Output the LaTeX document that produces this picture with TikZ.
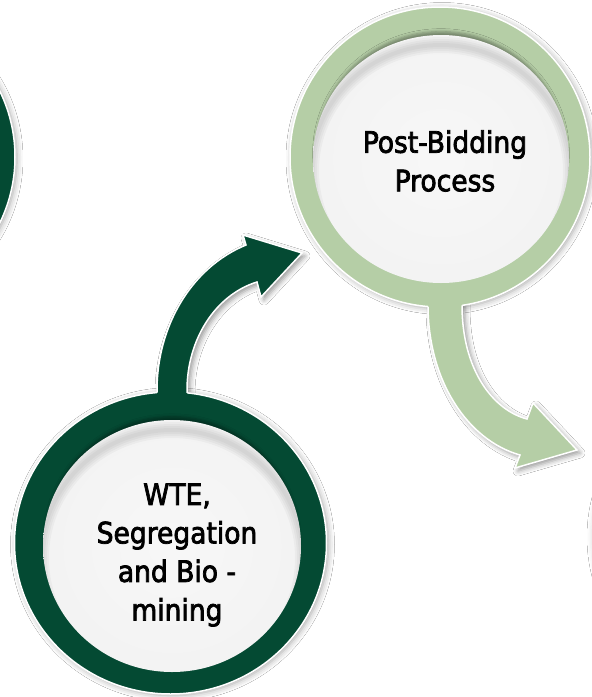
\documentclass[tikz,border=0pt]{standalone}
\usepackage{fontspec}
\newfontfamily\labfont{DejaVu Sans Condensed}[FakeBold=2.5]
\usetikzlibrary{shadows.blur}
\definecolor{dkgreen}{RGB}{4,74,51}
\definecolor{ltgreen}{RGB}{181,206,166}
\pgfdeclareradialshading{discshade}{\pgfpoint{0bp}{0bp}}{color(0bp)=(white!97!black); color(28bp)=(white!95!black); color(42bp)=(white!92!black); color(50bp)=(white!86!black)}
\begin{document}
\begin{tikzpicture}[x=1pt,y=-1pt,
  ringshadow/.style={blur shadow={shadow xshift=2pt, shadow yshift=-1.5pt, shadow blur radius=6pt, shadow opacity=35}},
  arrowshadow/.style={blur shadow={shadow xshift=3pt, shadow yshift=-3pt, shadow blur radius=5pt, shadow opacity=40}},
  discshadow/.style={blur shadow={shadow xshift=0pt, shadow yshift=6pt, shadow scale=0.98, shadow blur radius=3pt, shadow opacity=35}},
  ringline/.style={draw=white, line width=1.5pt},
  disc/.style={shading=discshade, discshadow},
  label/.style={align=center, font=\labfont\fontsize{29.5pt}{38.5pt}\selectfont, text=black, inner sep=0pt}]
\useasboundingbox (0,0) rectangle (592,697);
\fill[white] (0,0) rectangle (592,697);

% centres
\coordinate (lc) at (-135,157);
\coordinate (wc) at (170.5,543);
\coordinate (pc) at (440,157);
\coordinate (rc) at (745,537);

% arrow outlines
\def\darkarrow{(157,405) -- (157,390) .. controls (157,328) and (190,268) .. (246,245) -- (243,235) -- (302,253) -- (261,297) -- (257,282) .. controls (215,295) and (187,340) .. (187,390) -- (187,405)}
\def\lightarrow{(428,292) -- (428,305) .. controls (428,380) and (467,440) .. (520,455) -- (515,468) -- (577,450) -- (533,403) -- (527,419) .. controls (493,410) and (462,370) .. (462,305) -- (462,292)}

% partial neighbours
\fill[white, blur shadow={shadow xshift=0pt, shadow yshift=0pt, shadow blur radius=5pt, shadow opacity=15}] (rc) circle[radius=153pt];
\fill[dkgreen, ringline, ringshadow] (lc) circle[radius=150pt];

% arrow shadows (under the rings)
\path[arrowshadow] \darkarrow -- cycle;
\path[arrowshadow] \lightarrow -- cycle;

% rings
\fill[dkgreen, ringline, ringshadow] (wc) circle[x radius=156pt, y radius=151pt];
\fill[ltgreen, ringline, ringshadow] (pc) circle[radius=150pt];

% dark arrow (WTE -> Post-Bidding)
\fill[dkgreen] \darkarrow -- cycle;
\begin{scope}[even odd rule]
\clip (-10,-10) rectangle (602,707) (wc) circle[x radius=156pt, y radius=151pt];
\draw[white, line width=1.5pt] \darkarrow;
\end{scope}

% light arrow (Post-Bidding -> next)
\fill[ltgreen] \lightarrow -- cycle;
\begin{scope}[even odd rule]
\clip (-10,-10) rectangle (602,707) (pc) circle[radius=150pt];
\draw[white, line width=1.5pt] \lightarrow;
\end{scope}

% discs
\path[disc] (172,546) circle[x radius=129pt, y radius=126pt];
\begin{scope}
\clip (172,546) circle[x radius=129pt, y radius=126pt];
\foreach \w in {4,8,...,16} \draw[black, opacity=0.03, line width=\w pt] (172,558) circle[x radius=131pt, y radius=128pt];
\end{scope}
\path[disc] (441,159) circle[x radius=128pt, y radius=124pt];
\begin{scope}
\clip (441,159) circle[x radius=128pt, y radius=124pt];
\foreach \w in {4,8,...,16} \draw[black, opacity=0.03, line width=\w pt] (441,171) circle[x radius=130pt, y radius=126pt];
\end{scope}

% labels
\node[label] (wte) at (177,555) {WTE,\\Segregation\\and Bio -\\mining};
\node[label] (post) at (445,161) {Post-Bidding\\Process};
\end{tikzpicture}
\end{document}
